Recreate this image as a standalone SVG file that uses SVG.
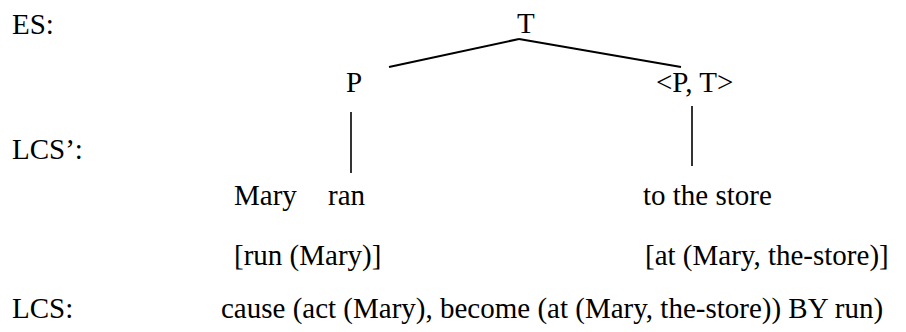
<svg xmlns="http://www.w3.org/2000/svg" width="906" height="332" viewBox="0 0 906 332">
<style>
text { font-family: "Liberation Serif", "Times New Roman", serif; font-size: 29px; fill: #000; }
.edge { stroke: #000; stroke-width: 2; fill: none; }
.vline { stroke: #000; stroke-width: 1.6; fill: none; }
</style>
<rect width="906" height="332" fill="#fff"/>
<g id="labels">
  <text x="12" y="34">ES:</text>
  <text x="12" y="159">LCS’:</text>
  <text x="12" y="318">LCS:</text>
</g>
<g id="node-T"><text x="517" y="33">T</text></g>
<g id="node-P"><text x="346" y="92">P</text></g>
<g id="node-PT"><text x="656" y="92">&lt;P, T&gt;</text></g>
<g id="node-mary-ran">
  <text x="234" y="205">Mary</text>
  <text x="328" y="205">ran</text>
</g>
<g id="node-store"><text x="643" y="205">to the store</text></g>
<g id="node-run"><text x="234" y="265">[run (Mary)]</text></g>
<g id="node-at"><text x="645" y="265">[at (Mary, the-store)]</text></g>
<g id="node-lcs"><text x="221" y="318">cause (act (Mary), become (at (Mary, the-store)) BY run)</text></g>
<g id="connectors">
  <line class="edge" x1="389" y1="67" x2="519" y2="39"/>
  <line class="edge" x1="519" y1="39" x2="681" y2="67"/>
  <line class="vline" x1="351" y1="112" x2="351" y2="173"/>
  <line class="vline" x1="692" y1="106" x2="692" y2="166"/>
</g>
</svg>
